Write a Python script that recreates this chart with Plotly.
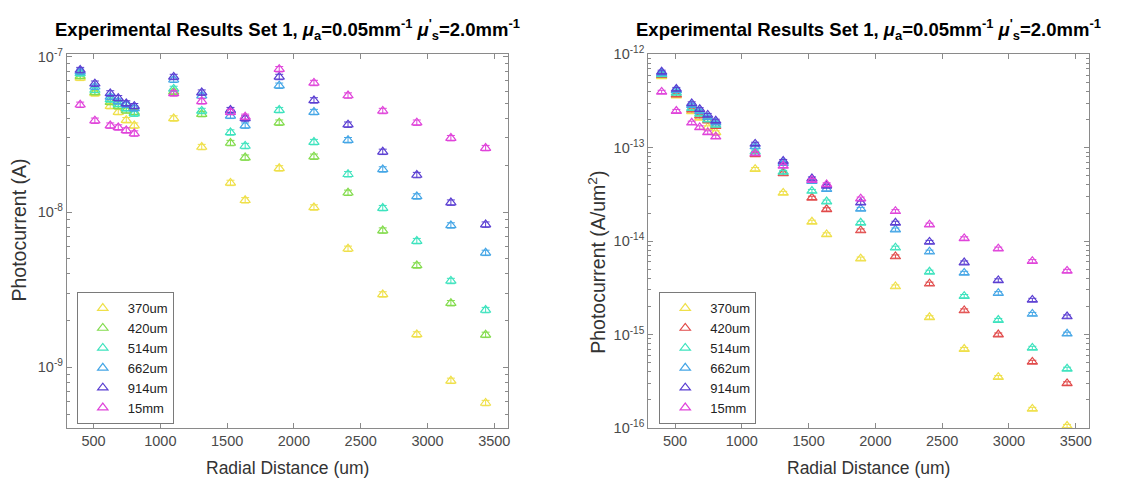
import plotly.graph_objects as go

# ---------------- data ----------------
radial_um = [400, 510, 625, 685, 745, 805, 1100, 1310, 1525, 1635, 1890, 2150, 2405, 2665, 2920, 3175, 3435]
series_names = ["370um", "420um", "514um", "662um", "914um", "15mm"]

# Left: photocurrent (A)
cur_370 = [7.3e-8, 5.8e-8, 4.8e-8, 4.4e-8, 3.9e-8, 3.6e-8, 4.0e-8, 2.62e-8, 1.54e-8, 1.19e-8, 1.91e-8, 1.07e-8, 5.8e-9, 2.95e-9, 1.63e-9, 8.2e-10, 5.9e-10]
cur_420 = [7.5e-8, 5.9e-8, 5.1e-8, 4.8e-8, 4.5e-8, 4.4e-8, 5.95e-8, 4.27e-8, 2.78e-8, 2.24e-8, 3.76e-8, 2.27e-8, 1.33e-8, 7.6e-9, 4.53e-9, 2.59e-9, 1.62e-9]
cur_514 = [7.8e-8, 6.1e-8, 5.3e-8, 4.95e-8, 4.65e-8, 4.3e-8, 6.2e-8, 4.47e-8, 3.25e-8, 2.66e-8, 4.53e-8, 2.82e-8, 1.75e-8, 1.06e-8, 6.5e-9, 3.6e-9, 2.34e-9]
cur_662 = [8.0e-8, 6.4e-8, 5.5e-8, 5.15e-8, 4.9e-8, 4.65e-8, 7.1e-8, 5.6e-8, 4.16e-8, 3.6e-8, 6.5e-8, 4.4e-8, 2.9e-8, 1.88e-8, 1.26e-8, 8.2e-9, 5.46e-9]
cur_914 = [8.2e-8, 6.7e-8, 5.8e-8, 5.4e-8, 5.0e-8, 4.8e-8, 7.4e-8, 5.87e-8, 4.53e-8, 4.0e-8, 7.4e-8, 5.23e-8, 3.65e-8, 2.44e-8, 1.73e-8, 1.15e-8, 8.3e-9]
cur_15mm = [4.9e-8, 3.87e-8, 3.6e-8, 3.5e-8, 3.35e-8, 3.2e-8, 5.8e-8, 5.16e-8, 4.4e-8, 4.1e-8, 8.3e-8, 6.77e-8, 5.62e-8, 4.47e-8, 3.76e-8, 2.99e-8, 2.58e-8]

# Right: photocurrent density (A/um^2)
den_370 = [5.8e-13, 3.6e-13, 2.45e-13, 2.09e-13, 1.65e-13, 1.46e-13, 5.9e-14, 3.28e-14, 1.61e-14, 1.18e-14, 6.5e-15, 3.27e-15, 1.53e-15, 7.0e-16, 3.5e-16, 1.6e-16, 1.05e-16]
den_420 = [6.0e-13, 3.7e-13, 2.55e-13, 2.2e-13, 1.95e-13, 1.7e-13, 8.5e-14, 5.3e-14, 2.91e-14, 2.19e-14, 1.3e-14, 6.85e-15, 3.5e-15, 1.81e-15, 1.0e-15, 5.1e-16, 3.0e-16]
den_514 = [6.1e-13, 3.86e-13, 2.65e-13, 2.3e-13, 2.0e-13, 1.75e-13, 9.1e-14, 5.5e-14, 3.44e-14, 2.65e-14, 1.57e-14, 8.5e-15, 4.7e-15, 2.58e-15, 1.43e-15, 7.2e-16, 4.3e-16]
den_662 = [6.3e-13, 4.1e-13, 2.85e-13, 2.45e-13, 2.12e-13, 1.85e-13, 1.03e-13, 6.85e-14, 4.4e-14, 3.6e-14, 2.21e-14, 1.33e-14, 7.7e-15, 4.57e-15, 2.77e-15, 1.66e-15, 1.02e-15]
den_914 = [6.5e-13, 4.25e-13, 2.98e-13, 2.58e-13, 2.24e-13, 1.94e-13, 1.1e-13, 7.2e-14, 4.68e-14, 3.9e-14, 2.58e-14, 1.57e-14, 9.8e-15, 5.9e-15, 3.8e-15, 2.35e-15, 1.56e-15]
den_15mm = [3.96e-13, 2.47e-13, 1.85e-13, 1.65e-13, 1.46e-13, 1.31e-13, 8.7e-14, 6.4e-14, 4.5e-14, 4.05e-14, 2.85e-14, 2.09e-14, 1.5e-14, 1.07e-14, 8.3e-15, 6.1e-15, 4.8e-15]

x_ticks = [500, 1000, 1500, 2000, 2500, 3000, 3500]
left_decades = [-9, -8, -7]
right_decades = [-16, -15, -14, -13, -12]

# ---------------- style ----------------
left_colors = ["#EFE04A", "#84DC4E", "#3EE3BE", "#45A6E6", "#5B3FD2", "#E044DA"]
right_colors = ["#EFE04A", "#E14A4A", "#3EE3BE", "#45A6E6", "#5B3FD2", "#E044DA"]
FONT = "Liberation Sans, Arial, Helvetica, sans-serif"
AX = "#8a8a8a"
TXT = "#4a4a4a"
W, H = 1139, 488

left_data = [cur_370, cur_420, cur_514, cur_662, cur_914, cur_15mm]
right_data = [den_370, den_420, den_514, den_662, den_914, den_15mm]

fig = go.Figure()
for name, ys, col in zip(series_names, left_data, left_colors):
    fig.add_trace(go.Scatter(
        x=radial_um, y=ys, mode="markers", name=name,
        marker=dict(symbol="triangle-up-open", size=9, color=col, line=dict(width=1.2, color=col)),
        error_y=dict(type="percent", value=4, width=4, thickness=1, color=col),
        xaxis="x", yaxis="y", legend="legend"))
for name, ys, col in zip(series_names, right_data, right_colors):
    fig.add_trace(go.Scatter(
        x=radial_um, y=ys, mode="markers", name=name,
        marker=dict(symbol="triangle-up-open", size=9, color=col, line=dict(width=1.2, color=col)),
        error_y=dict(type="percent", value=4, width=4, thickness=1, color=col),
        xaxis="x2", yaxis="y2", legend="legend2"))


def minor_vals(decs):
    vals = []
    for d in range(min(decs) - 1, max(decs) + 1):
        for m in range(2, 10):
            vals.append(m * 10.0 ** d)
    return vals


def yaxis_cfg(decs, rng, anchor, top, bot):
    return dict(
        type="log", range=rng, anchor=anchor,
        domain=[(H - bot) / H, (H - top) / H],
        tickmode="array", tickvals=[10.0 ** d for d in decs],
        ticktext=["10<sup>%d</sup>" % d for d in decs],
        ticks="inside", ticklen=5, tickcolor=AX, tickwidth=1,
        minor=dict(tickmode="array", tickvals=minor_vals(decs), ticks="inside",
                   ticklen=3, tickcolor=AX, tickwidth=1, showgrid=False),
        showline=True, linecolor=AX, linewidth=1, mirror="allticks",
        showgrid=False, zeroline=False,
        tickfont=dict(family=FONT, size=14.5, color=TXT),
    )


def xaxis_cfg(x0, x1, anchor):
    return dict(
        range=[300, 3600], anchor=anchor, domain=[x0 / W, x1 / W],
        tickmode="array", tickvals=x_ticks,
        ticks="inside", ticklen=5, tickcolor=AX, tickwidth=1,
        showline=True, linecolor=AX, linewidth=1, mirror="allticks",
        showgrid=False, zeroline=False,
        tickfont=dict(family=FONT, size=14.5, color=TXT),
    )


TOP, BOT = 46, 434
LX0, LX1 = 67, 509
RX0, RX1 = 650, 1092

legend_common = dict(
    bgcolor="white", bordercolor="#7a7a7a", borderwidth=1,
    font=dict(family=FONT, size=13, color="#222222"),
    xanchor="left", yanchor="bottom", itemwidth=40, tracegroupgap=0,
    xref="paper", yref="paper",
)

fig.update_layout(
    width=W, height=H, margin=dict(l=0, r=0, t=0, b=0),
    paper_bgcolor="white", plot_bgcolor="white",
    font=dict(family=FONT),
    xaxis=xaxis_cfg(LX0, LX1, "y"),
    yaxis=yaxis_cfg(left_decades, [-9.39, -6.985], "x", TOP, BOT),
    xaxis2=xaxis_cfg(RX0, RX1, "y2"),
    yaxis2=yaxis_cfg(right_decades, [-16, -12], "x2", TOP, BOT),
    legend=dict(x=77 / W, y=(H - 430) / H, **legend_common),
    legend2=dict(x=661 / W, y=(H - 430) / H, **legend_common),
)

title_txt = ("<b>Experimental Results Set 1, <i>μ</i><sub>a</sub>=0.05mm<sup>-1</sup> "
             "<i>μ</i><sup>'</sup><sub>s</sub>=2.0mm<sup>-1</sup></b>")
for cx in [(LX0 + LX1) / 2, (RX0 + RX1) / 2]:
    fig.add_annotation(text=title_txt, x=cx / W, y=(H - 20) / H, xref="paper", yref="paper",
                       showarrow=False, xanchor="center", yanchor="middle",
                       font=dict(family=FONT, size=18.5, color="black"))
    fig.add_annotation(text="Radial Distance (um)", x=cx / W, y=(H - 476) / H,
                       xref="paper", yref="paper", showarrow=False,
                       xanchor="center", yanchor="middle",
                       font=dict(family=FONT, size=17.5, color="#333333"))

fig.add_annotation(text="Photocurrent (A)", x=19 / W, y=(H - 228) / H,
                   xref="paper", yref="paper", showarrow=False, textangle=-90,
                   xanchor="center", yanchor="middle",
                   font=dict(family=FONT, size=19.5, color="#333333"))
fig.add_annotation(text="Photocurrent (A/um<sup>2</sup>)", x=599 / W, y=(H - 262) / H,
                   xref="paper", yref="paper", showarrow=False, textangle=-90,
                   xanchor="center", yanchor="middle",
                   font=dict(family=FONT, size=19.5, color="#333333"))

fig.write_html("out.html")
